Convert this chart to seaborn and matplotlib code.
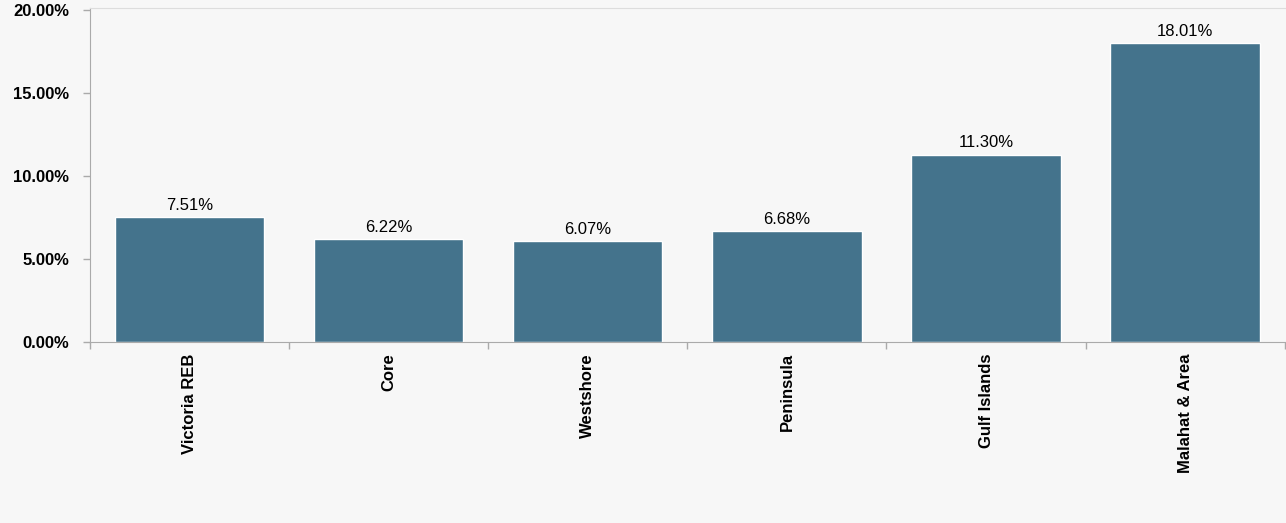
import matplotlib
matplotlib.use("Agg")
import matplotlib.pyplot as plt
import seaborn as sns
import pandas as pd
import numpy as np
from matplotlib.ticker import FixedLocator, FuncFormatter

categories = ["Victoria REB", "Core", "Westshore", "Peninsula", "Gulf Islands", "Malahat & Area"]
values = [7.51, 6.22, 6.07, 6.68, 11.30, 18.01]
yticks = [0, 5, 10, 15, 20]

sns.set_style("white", {"xtick.bottom": True, "ytick.left": True})
plt.rcParams['font.family'] = ['Liberation Sans', 'DejaVu Sans']
plt.rcParams['text.color'] = 'black'
plt.rcParams['xtick.color'] = '#aaaaaa'
plt.rcParams['ytick.color'] = '#aaaaaa'
plt.rcParams['xtick.labelcolor'] = 'black'
plt.rcParams['ytick.labelcolor'] = 'black'
df = pd.DataFrame({"cat": categories, "val": values})

fig = plt.figure(figsize=(12.86, 5.23), dpi=100, facecolor="#f7f7f7")
ax = fig.add_axes([0.07, 0.346, 0.929, 0.639])
ax.set_facecolor("#f7f7f7")
sns.barplot(data=df, x="cat", y="val", color="#44738c", saturation=1, width=0.75, ax=ax)
ax.set_xlim(-0.5, len(categories) - 0.5)
ax.set_ylim(0, 20.15)
ax.set_yticks(yticks)
ax.yaxis.set_major_formatter(FuncFormatter(lambda v, p: f"{v:.2f}%"))
for t in ax.get_yticklabels():
    t.set_fontweight("bold"); t.set_fontsize(12)
ax.set_xticks(range(len(categories)))
ax.set_xticklabels(categories, rotation=90, fontweight="bold", fontsize=12)
ax.tick_params(axis="x", which="major", length=0, pad=8)
ax.tick_params(axis="y", length=5, width=1, pad=10)
ax.xaxis.set_minor_locator(FixedLocator(np.arange(-0.5, len(categories), 1)))
ax.tick_params(axis="x", which="minor", length=5, width=1, bottom=True)
ax.set_xlabel(""); ax.set_ylabel("")
ax.spines["right"].set_visible(False)
ax.spines["top"].set_color("#dddddd")
for s in ["left", "bottom"]:
    ax.spines[s].set_color("#aaaaaa")
for i, v in enumerate(values):
    ax.text(i, v + 0.25, f"{v:.2f}%", ha="center", va="bottom", fontsize=12, color="black")
fig.savefig("out.png", dpi=100, facecolor=fig.get_facecolor())
